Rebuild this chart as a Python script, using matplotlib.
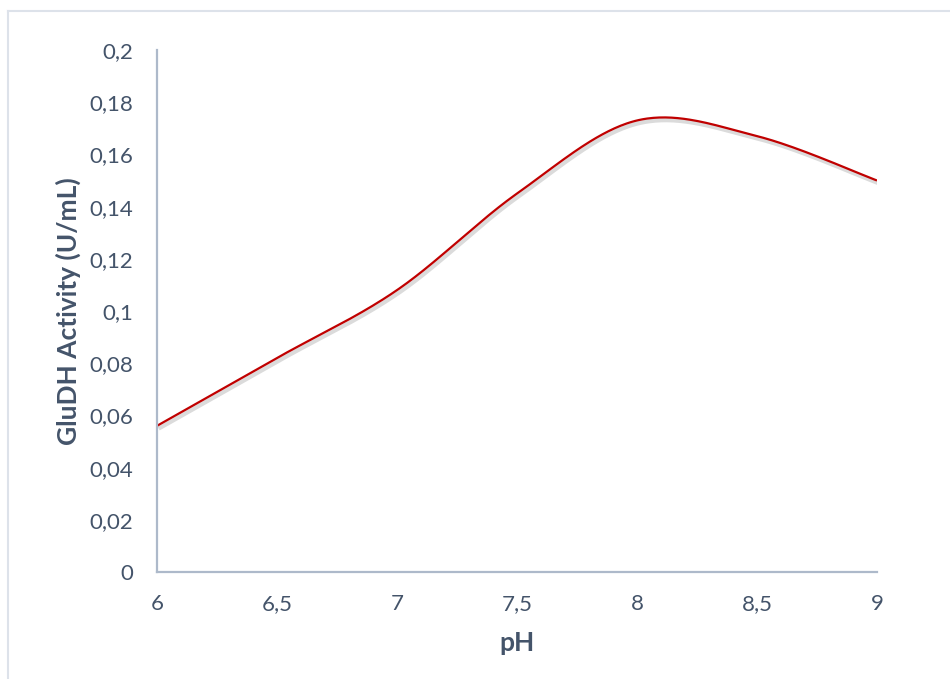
import numpy as np
import matplotlib
matplotlib.use("Agg")
import matplotlib.pyplot as plt
from matplotlib.lines import Line2D
import matplotlib.patheffects as pe

# Measured activity at each pH
ph = [6.0, 6.5, 7.0, 7.5, 8.0, 8.5, 9.0]
activity = [0.056, 0.082, 0.108, 0.145, 0.173, 0.167, 0.150]

x_ticks = [6.0, 6.5, 7.0, 7.5, 8.0, 8.5, 9.0]
x_tick_labels = ["6", "6,5", "7", "7,5", "8", "8,5", "9"]
y_ticks = [0.0, 0.02, 0.04, 0.06, 0.08, 0.10, 0.12, 0.14, 0.16, 0.18, 0.20]
y_tick_labels = ["0", "0,02", "0,04", "0,06", "0,08", "0,1", "0,12", "0,14", "0,16", "0,18", "0,2"]

TEXT = "#44546A"
AXIS = "#ADB9CA"
RED = "#C00000"


def smooth_curve(xs, ys, n=60):
    """Catmull-Rom style smoothing through every data point (cubic Bezier segments)."""
    xs = np.asarray(xs, float)
    ys = np.asarray(ys, float)
    px = np.concatenate([[xs[0]], xs, [xs[-1]]])
    py = np.concatenate([[ys[0]], ys, [ys[-1]]])
    out_x, out_y = [], []
    t = np.linspace(0, 1, n)
    for i in range(1, len(px) - 2):
        p0 = np.array([px[i], py[i]])
        p3 = np.array([px[i + 1], py[i + 1]])
        c1 = p0 + (np.array([px[i + 1], py[i + 1]]) - np.array([px[i - 1], py[i - 1]])) / 6
        c2 = p3 - (np.array([px[i + 2], py[i + 2]]) - np.array([px[i], py[i]])) / 6
        b = ((1 - t) ** 3)[:, None] * p0 + (3 * (1 - t) ** 2 * t)[:, None] * c1 \
            + (3 * (1 - t) * t ** 2)[:, None] * c2 + (t ** 3)[:, None] * p3
        out_x.extend(b[:, 0])
        out_y.extend(b[:, 1])
    return np.array(out_x), np.array(out_y)


plt.rcParams["font.family"] = ["Lato", "DejaVu Sans"]

fig = plt.figure(figsize=(9.5, 6.79), dpi=100)
ax = fig.add_axes([157 / 950, 1 - 572 / 679, 720 / 950, 522 / 679])

sx, sy = smooth_curve(ph, activity)
ax.plot(sx, sy, color=RED, lw=1.6, solid_capstyle="butt",
        path_effects=[pe.SimpleLineShadow(offset=(1.2, -2.0), shadow_color="#000000", alpha=0.14, linewidth=3),
                      pe.Normal()])

ax.set_xlim(6, 9)
ax.set_ylim(0, 0.2)
ax.set_xticks(x_ticks)
ax.set_xticklabels(x_tick_labels)
ax.set_yticks(y_ticks)
ax.set_yticklabels(y_tick_labels)
ax.tick_params(axis="both", length=0, labelsize=16, labelcolor=TEXT)
ax.tick_params(axis="y", pad=17)
ax.tick_params(axis="x", pad=16)

for side in ("top", "right"):
    ax.spines[side].set_visible(False)
for side in ("left", "bottom"):
    ax.spines[side].set_color(AXIS)
    ax.spines[side].set_linewidth(1.6)

ax.set_xlabel("pH", fontsize=19, fontweight="bold", color=TEXT, labelpad=12)
ax.set_ylabel("GluDH Activity (U/mL)", fontsize=19, fontweight="bold", color=TEXT, labelpad=6)

# Light frame around the chart area
frame_col = "#DDE2EA"
fig.add_artist(Line2D([8 / 950, 1.0], [1 - 10.5 / 679, 1 - 10.5 / 679],
                      transform=fig.transFigure, color=frame_col, lw=1.5))
fig.add_artist(Line2D([8 / 950, 8 / 950], [0.0, 1 - 10.5 / 679],
                      transform=fig.transFigure, color=frame_col, lw=1.5))

fig.savefig("out.png", dpi=100, facecolor="white")
